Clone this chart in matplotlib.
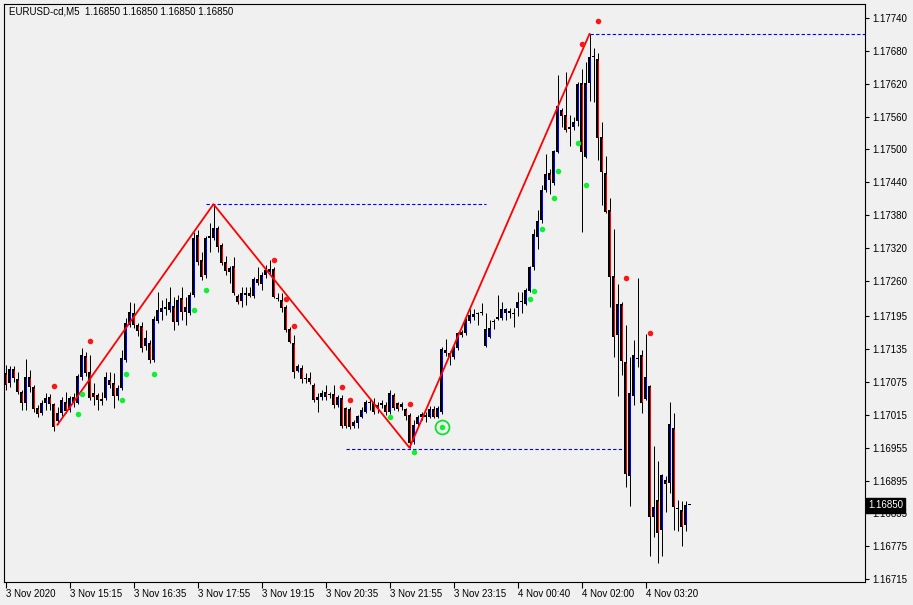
import matplotlib
matplotlib.use("Agg")
import matplotlib.pyplot as plt
import matplotlib.transforms as mtransforms

# EURUSD M5 candles (bar 0 = first visible bar)
opens = [1.17091, 1.17073, 1.17099, 1.17081, 1.17057, 1.17037, 1.17084, 1.17066, 1.17028, 1.17018,
         1.17037, 1.17048, 1.17035, 1.17004, 1.17018, 1.17039, 1.17024, 1.17048, 1.17037, 1.17084,
         1.17122, 1.17093, 1.17055, 1.17051, 1.17044, 1.17046, 1.17079, 1.17073, 1.17050, 1.17064,
         1.17115, 1.17179, 1.17201, 1.17179, 1.17177, 1.17141, 1.17146, 1.17115, 1.17187, 1.17203,
         1.17209, 1.17207, 1.17214, 1.17185, 1.17229, 1.17203, 1.17201, 1.17234, 1.17344, 1.17298,
         1.17271, 1.17338, 1.17338, 1.17356, 1.17325, 1.17294, 1.17276, 1.17287, 1.17232, 1.17223,
         1.17238, 1.17238, 1.17232, 1.17263, 1.17254, 1.17271, 1.17276, 1.17282, 1.17229, 1.17225,
         1.17212, 1.17172, 1.17146, 1.17095, 1.17101, 1.17082, 1.17082, 1.17070, 1.17042, 1.17048,
         1.17057, 1.17051, 1.17053, 1.17033, 1.17046, 1.17028, 1.17026, 1.16995, 1.17000, 1.17011,
         1.17020, 1.17037, 1.17039, 1.17033, 1.17033, 1.17033, 1.17020, 1.17051, 1.17037, 1.17029,
         1.17026, 1.17015, 1.16965, 1.16998, 1.17011, 1.17015, 1.17011, 1.17026, 1.17011, 1.17020,
         1.17133, 1.17128, 1.17121, 1.17137, 1.17166, 1.17165, 1.17187, 1.17194, 1.17201, 1.17202,
         1.17141, 1.17157, 1.17185, 1.17190, 1.17192, 1.17201, 1.17205, 1.17201, 1.17210, 1.17221,
         1.17218, 1.17241, 1.17285, 1.17340, 1.17371, 1.17426, 1.17457, 1.17439, 1.17495, 1.17572,
         1.17563, 1.17541, 1.17541, 1.17552, 1.17621, 1.17486, 1.17621, 1.17669, 1.17665, 1.17523,
         1.17457, 1.17389, 1.17269, 1.17161, 1.17218, 1.17112, 1.16903, 1.17050, 1.17119, 1.17124,
         1.17044, 1.17068, 1.16828, 1.16859, 1.16804, 1.16896, 1.16891, 1.16991, 1.16844, 1.16841,
         1.16813, 1.16850]
highs = [1.17106, 1.17104, 1.17104, 1.17093, 1.17060, 1.17117, 1.17097, 1.17070, 1.17033, 1.17042,
         1.17055, 1.17053, 1.17037, 1.17029, 1.17048, 1.17057, 1.17050, 1.17055, 1.17090, 1.17137,
         1.17130, 1.17124, 1.17073, 1.17055, 1.17057, 1.17093, 1.17093, 1.17091, 1.17070, 1.17133,
         1.17192, 1.17221, 1.17219, 1.17183, 1.17185, 1.17170, 1.17152, 1.17196, 1.17240, 1.17225,
         1.17229, 1.17249, 1.17230, 1.17234, 1.17249, 1.17230, 1.17240, 1.17349, 1.17353, 1.17312,
         1.17342, 1.17366, 1.17400, 1.17360, 1.17329, 1.17305, 1.17287, 1.17303, 1.17236, 1.17249,
         1.17249, 1.17249, 1.17267, 1.17285, 1.17276, 1.17289, 1.17298, 1.17285, 1.17238, 1.17238,
         1.17216, 1.17176, 1.17161, 1.17108, 1.17106, 1.17091, 1.17093, 1.17073, 1.17055, 1.17060,
         1.17070, 1.17057, 1.17070, 1.17051, 1.17051, 1.17029, 1.17029, 1.17006, 1.17015, 1.17029,
         1.17042, 1.17044, 1.17046, 1.17039, 1.17042, 1.17039, 1.17060, 1.17055, 1.17039, 1.17039,
         1.17028, 1.17018, 1.17006, 1.17015, 1.17020, 1.17020, 1.17031, 1.17031, 1.17031, 1.17139,
         1.17154, 1.17132, 1.17141, 1.17166, 1.17170, 1.17192, 1.17209, 1.17209, 1.17203, 1.17219,
         1.17201, 1.17188, 1.17190, 1.17234, 1.17221, 1.17210, 1.17210, 1.17210, 1.17240, 1.17240,
         1.17247, 1.17287, 1.17355, 1.17389, 1.17435, 1.17492, 1.17464, 1.17499, 1.17636, 1.17576,
         1.17641, 1.17563, 1.17559, 1.17623, 1.17647, 1.17660, 1.17711, 1.17685, 1.17676, 1.17550,
         1.17488, 1.17411, 1.17355, 1.17254, 1.17221, 1.17179, 1.17121, 1.17152, 1.17265, 1.17133,
         1.17163, 1.17070, 1.16958, 1.16931, 1.16907, 1.16903, 1.17039, 1.17018, 1.16859, 1.16858,
         1.16858, 1.16850]
lows = [1.17060, 1.17066, 1.17075, 1.17053, 1.17024, 1.17024, 1.17057, 1.17020, 1.17011, 1.17015,
        1.17024, 1.17024, 1.16986, 1.16998, 1.17013, 1.17018, 1.17020, 1.17029, 1.17035, 1.17079,
        1.17086, 1.17042, 1.17033, 1.17024, 1.17033, 1.17042, 1.17064, 1.17028, 1.17042, 1.17060,
        1.17112, 1.17176, 1.17174, 1.17159, 1.17130, 1.17134, 1.17110, 1.17112, 1.17183, 1.17188,
        1.17198, 1.17203, 1.17170, 1.17179, 1.17188, 1.17179, 1.17198, 1.17230, 1.17289, 1.17261,
        1.17265, 1.17312, 1.17335, 1.17312, 1.17289, 1.17271, 1.17256, 1.17234, 1.17218, 1.17212,
        1.17216, 1.17230, 1.17229, 1.17252, 1.17243, 1.17265, 1.17272, 1.17229, 1.17223, 1.17203,
        1.17166, 1.17146, 1.17082, 1.17093, 1.17073, 1.17073, 1.17071, 1.17039, 1.17020, 1.17042,
        1.17042, 1.17046, 1.17028, 1.17029, 1.16991, 1.16991, 1.16989, 1.16991, 1.16991, 1.17009,
        1.17018, 1.17024, 1.17017, 1.17018, 1.17028, 1.17015, 1.17017, 1.17024, 1.17022, 1.17024,
        1.17006, 1.16955, 1.16962, 1.16995, 1.17006, 1.17002, 1.17009, 1.17009, 1.17009, 1.17017,
        1.17122, 1.17106, 1.17117, 1.17133, 1.17157, 1.17161, 1.17183, 1.17188, 1.17179, 1.17198,
        1.17139, 1.17155, 1.17172, 1.17188, 1.17188, 1.17188, 1.17192, 1.17176, 1.17196, 1.17201,
        1.17216, 1.17240, 1.17280, 1.17318, 1.17365, 1.17422, 1.17419, 1.17435, 1.17493, 1.17541,
        1.17532, 1.17507, 1.17535, 1.17543, 1.17349, 1.17484, 1.17589, 1.17587, 1.17481, 1.17399,
        1.17384, 1.17212, 1.17121, 1.17050, 1.17088, 1.16883, 1.16849, 1.17033, 1.17102, 1.17018,
        1.17042, 1.16757, 1.16792, 1.16744, 1.16757, 1.16838, 1.16872, 1.16805, 1.16803, 1.16776,
        1.16803, 1.16850]
closes = [1.17070, 1.17099, 1.17082, 1.17057, 1.17037, 1.17084, 1.17066, 1.17026, 1.17017, 1.17037,
          1.17046, 1.17035, 1.16993, 1.17018, 1.17042, 1.17022, 1.17046, 1.17037, 1.17086, 1.17124,
          1.17091, 1.17046, 1.17048, 1.17042, 1.17040, 1.17084, 1.17070, 1.17050, 1.17064, 1.17119,
          1.17183, 1.17203, 1.17179, 1.17168, 1.17137, 1.17155, 1.17115, 1.17190, 1.17207, 1.17210,
          1.17212, 1.17221, 1.17185, 1.17225, 1.17203, 1.17212, 1.17234, 1.17338, 1.17294, 1.17267,
          1.17338, 1.17342, 1.17356, 1.17322, 1.17292, 1.17278, 1.17283, 1.17238, 1.17221, 1.17238,
          1.17234, 1.17232, 1.17263, 1.17256, 1.17271, 1.17280, 1.17282, 1.17230, 1.17227, 1.17210,
          1.17170, 1.17148, 1.17093, 1.17104, 1.17081, 1.17081, 1.17075, 1.17042, 1.17048, 1.17055,
          1.17048, 1.17053, 1.17033, 1.17048, 1.16995, 1.16995, 1.16993, 1.17002, 1.17013, 1.17024,
          1.17039, 1.17039, 1.17020, 1.17028, 1.17037, 1.17020, 1.17055, 1.17028, 1.17026, 1.17035,
          1.17013, 1.16964, 1.16997, 1.17011, 1.17017, 1.17011, 1.17026, 1.17011, 1.17028, 1.17135,
          1.17128, 1.17121, 1.17137, 1.17165, 1.17161, 1.17188, 1.17198, 1.17199, 1.17200, 1.17203,
          1.17172, 1.17174, 1.17184, 1.17194, 1.17209, 1.17209, 1.17201, 1.17200, 1.17221, 1.17222,
          1.17243, 1.17285, 1.17346, 1.17369, 1.17426, 1.17455, 1.17444, 1.17497, 1.17579, 1.17561,
          1.17535, 1.17537, 1.17550, 1.17620, 1.17495, 1.17621, 1.17669, 1.17668, 1.17521, 1.17459,
          1.17386, 1.17267, 1.17157, 1.17218, 1.17114, 1.16907, 1.17055, 1.17124, 1.17118, 1.17037,
          1.17084, 1.16829, 1.16847, 1.16799, 1.16905, 1.16889, 1.16998, 1.16847, 1.16843, 1.16810,
          1.16850, 1.16850]

time_ticks = [0, 16, 32, 48, 64, 80, 96, 112, 128, 144, 160]
time_labels = ["3 Nov 2020", "3 Nov 15:15", "3 Nov 16:35", "3 Nov 17:55", "3 Nov 19:15",
               "3 Nov 20:35", "3 Nov 21:55", "3 Nov 23:15", "4 Nov 00:40", "4 Nov 02:00",
               "4 Nov 03:20"]
price_ticks = [1.17740, 1.17680, 1.17620, 1.17560, 1.17500, 1.17440, 1.17380, 1.17320, 1.17260,
               1.17195, 1.17135, 1.17075, 1.17015, 1.16955, 1.16895, 1.16835, 1.16775, 1.16715]

# fractal dots
red_dot_bars = [12, 21, 67, 70, 72, 84, 86, 101, 144, 148, 155, 161]
red_dot_prices = [1.17068, 1.17150, 1.17298, 1.17227, 1.17177, 1.17066, 1.17042, 1.17035,
                  1.17693, 1.17735, 1.17265, 1.17165]
green_dot_bars = [18, 19, 29, 30, 37, 47, 50, 96, 102, 109, 131, 132, 134, 137, 138, 143, 145]
green_dot_prices = [1.17017, 1.17053, 1.17042, 1.17090, 1.17090, 1.17207, 1.17243, 1.17011,
                    1.16947, 1.16993, 1.17227, 1.17241, 1.17355, 1.17411, 1.17461, 1.17512, 1.17435]
signal_bar = 109
signal_price = 1.16993

# zigzag and its levels
zigzag_bars = [13, 52, 101, 146]
zigzag_prices = [1.16997, 1.17400, 1.16955, 1.17711]
level_start = [50, 85, 146]
level_end = [120, 155, 216]
level_price = [1.17400, 1.16953, 1.17711]

last_price = 1.16850
title = "EURUSD-cd,M5  1.16850 1.16850 1.16850 1.16850"

bg = "#F0F0F0"
plt.rcParams['font.family'] = ['Liberation Sans', 'DejaVu Sans']

fig = plt.figure(figsize=(9.13, 6.05), dpi=100, facecolor=bg)
ax = fig.add_axes([4 / 913, 23 / 605, 861 / 913, 578 / 605], facecolor=bg)

ymin, ymax = 1.167097, 1.177657
px = (ymax - ymin) / 578.0   # one screen pixel in price units

n = len(opens)
xs = list(range(n))
px_lw = 72.0 / 100            # one pixel line width in points

# wicks
ax.vlines(xs, lows, highs, color="black", lw=px_lw, zorder=2)

# bodies: black 3px block, coloured 1px core
bottoms = [min(o, c) for o, c in zip(opens, closes)]
heights = [max(abs(c - o), px) for o, c in zip(opens, closes)]
ax.bar(xs, heights, bottom=bottoms, width=0.75, color="black", linewidth=0, zorder=3)
for i in xs:
    o, c = opens[i], closes[i]
    if abs(c - o) > 2.5 * px:
        col = "#0000FF" if c > o else "#FF0000"
        ax.vlines(i, min(o, c) + px, max(o, c) - px, color=col, lw=px_lw, zorder=4)

# zigzag
ax.plot(zigzag_bars, zigzag_prices, color="#FF0000", lw=1.3, zorder=5)

# levels
for s, e, p in zip(level_start, level_end, level_price):
    ax.plot([s, e], [p, p], color="#0000FF", lw=0.8, dashes=(3, 2), zorder=1)

# fractal dots
ax.plot(red_dot_bars, red_dot_prices, "o", color="#F81818", ms=4, mew=0, zorder=6)
ax.plot(green_dot_bars, green_dot_prices, "o", color="#10F030", ms=4, mew=0, zorder=6)
ax.plot([signal_bar], [signal_price], "o", mfc="none", mec="#10E030", ms=10, mew=1.3, zorder=6)

ax.set_xlim(-0.375, 214.875)
ax.set_ylim(ymin, ymax)

for s in ax.spines.values():
    s.set_color("black")
    s.set_linewidth(0.8)

ax.set_xticks(time_ticks)
ax.set_xticklabels(time_labels, ha="left", fontsize=7)
ax.tick_params(axis="x", direction="out", length=4, pad=1, width=0.8)

ax.yaxis.tick_right()
ax.set_yticks(price_ticks)
ax.set_yticklabels(["%.5f" % p for p in price_ticks], fontsize=7)
ax.tick_params(axis="y", direction="out", length=3, pad=2, width=0.8)

# current price box
trans = mtransforms.blended_transform_factory(ax.transAxes, ax.transData)
ax.text(1.0035, last_price, "%.5f" % last_price, transform=trans, color="white",
        fontsize=7, va="center", ha="left", clip_on=False, zorder=10,
        bbox=dict(boxstyle="square,pad=0.25", fc="black", ec="black"))

fig.text(9 / 913, 1 - 12 / 605, title, fontsize=7, va="center", ha="left")

fig.savefig("out.png", dpi=100, facecolor=bg)
